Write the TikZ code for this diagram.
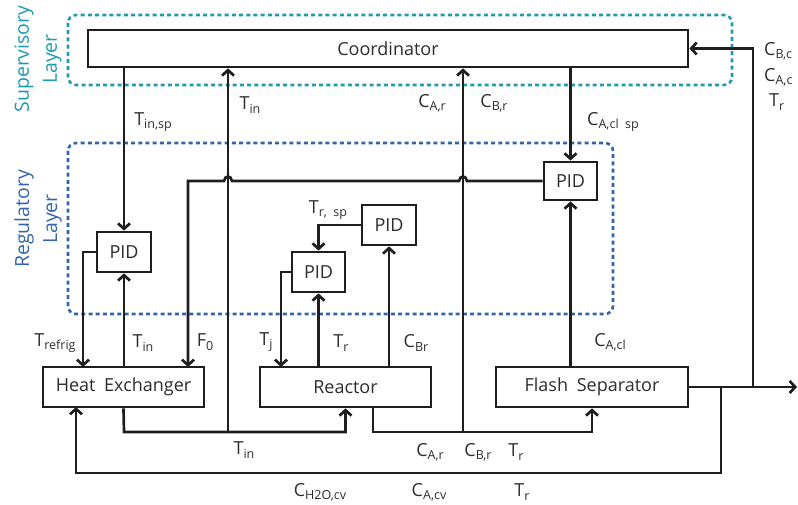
\documentclass[tikz,border=0pt]{standalone}
\usepackage{fontspec}
\setmainfont{Open Sans}
\usetikzlibrary{arrows.meta}
\definecolor{supc}{RGB}{30,155,178}
\definecolor{regc}{RGB}{50,102,170}
\definecolor{ink}{RGB}{30,30,30}
\definecolor{txt}{RGB}{45,45,45}
\newcommand\lbl[2]{#1\raisebox{-0.35ex}{\fontsize{12.5}{14}\selectfont #2}}
\begin{document}
\begin{tikzpicture}[x=1pt,y=-1pt,
  font=\fontsize{18}{21}\selectfont, text=txt,
  blk/.style={draw=ink, line width=2.7pt, fill=white, inner sep=0pt, anchor=center},
  arr/.style={draw=ink, line width=2.7pt, -{Straight Barb[length=5.5pt,width=12pt,line width=2.7pt]}},
  layerbox/.style={line width=2.6pt, dash pattern=on 4pt off 3.2pt, rounded corners=8pt},
  lab/.style={inner sep=0pt, anchor=center}]
\useasboundingbox (0,0) rectangle (798,505);

% layer frames
\draw[layerbox, draw=supc] (68,15) rectangle (732,85);
\draw[layerbox, draw=regc] (68,143) rectangle (613,314);
\node[lab, rotate=90, text=supc, align=center, font=\fontsize{19.5}{28}\selectfont] (suplab) at (38,59) {Supervisory\\Layer};
\node[lab, rotate=90, text=regc, align=center, font=\fontsize{19.5}{28}\selectfont] (reglab) at (38,219) {Regulatory\\Layer};

% blocks
\node[blk, minimum width=600pt, minimum height=37pt] (coord) at (388,48.5) {Coordinator};
\node[blk, minimum width=161pt, minimum height=40pt] (he) at (123.5,387) {Heat\hspace{4pt} Exchanger};
\node[blk, minimum width=171pt, minimum height=40pt] (re) at (345.5,387) {Reactor};
\node[blk, minimum width=192pt, minimum height=40pt] (fl) at (592,387) {Flash\hspace{4pt} Separator};
\node[blk, minimum width=54pt, minimum height=40pt] (pid1) at (124,252) {PID};
\node[blk, minimum width=53pt, minimum height=40pt] (pid2) at (318.5,272) {PID};
\node[blk, minimum width=54pt, minimum height=40pt] (pid4) at (389,225) {PID};
\node[blk, minimum width=53pt, minimum height=38pt] (pid3) at (570.5,181) {PID};

% helper coordinates
\coordinate (hebus) at (124,432);
\coordinate (tinj) at (228,432);
\coordinate (rbus) at (373,432);
\coordinate (carj) at (463,432);
\coordinate (outj) at (753,387);
\coordinate (recj) at (721,387);
\coordinate (recb) at (76,473);
\coordinate (hein) at (76,407);
\coordinate (out) at (797,387);
\coordinate (f0c) at (188,181);
\coordinate (f0in) at (188,367);
\coordinate (trefin) at (83,367);
\coordinate (tjin) at (281,367);

% supervisory connections
\draw[arr] (pid1.north |- coord.south) -- (pid1.north);
\draw[arr] (tinj) -- (tinj |- coord.south);
\draw[arr] (carj) -- (carj |- coord.south);
\draw[arr] (pid3.north |- coord.south) -- (pid3.north);
\draw[arr] (outj) |- (coord.east);

% F0 line with hops
\draw[arr] (pid3.west) -- (467,181) .. controls (466,175) and (460,175) .. (459,181)
  -- (232,181) .. controls (231,175) and (225,175) .. (224,181) -- (f0c) -- (f0in);

% regulatory loops
\draw[arr] (pid1.west) -| (trefin);
\draw[arr] (he.north -| pid1.south) -- (pid1.south);
\draw[arr] (pid2.west) -| (tjin);
\draw[arr] (re.north -| pid2.south) -- (pid2.south);
\draw[arr] (pid4.west) -| (pid2.north);
\draw[arr] (re.north -| pid4.south) -- (pid4.south);
\draw[arr] (fl.north -| pid3.south) -- (pid3.south);

% process streams
\draw[arr] (he.south) -- (hebus) -| (re.south);
\draw[arr] (rbus |- re.south) -- (rbus) -| (fl.south);
\draw[arr] (fl.east) -- (out);
\draw[arr] (recj) |- (recb) -- (hein);

% labels
\node[lab] (l1) at (153,122) {\lbl{T}{in,sp}};
\node[lab] (l2) at (250,105) {\lbl{T}{in}};
\node[lab] (l3) at (432,103) {\lbl{C}{A,r}};
\node[lab] (l4) at (494,103) {\lbl{C}{B,r}};
\node[lab] (l5) at (613,122) {\lbl{C}{A,cl\ \ sp}};
\node[lab, anchor=west] (l6) at (764,51) {\lbl{C}{B,c}};
\node[lab, anchor=west] (l7) at (764,77) {\lbl{C}{A,c}};
\node[lab, anchor=west] (l8) at (769,102) {\lbl{T}{r}};
\node[lab] (l9) at (328,210) {\lbl{T}{r,\ \ sp}};
\node[lab] (l10) at (55,343) {\lbl{T}{refrig}};
\node[lab] (l11) at (143,343) {\lbl{T}{in}};
\node[lab] (l12) at (205,342) {\lbl{F}{0}};
\node[lab] (l13) at (266,342) {\lbl{T}{j}};
\node[lab] (l14) at (341,343) {\lbl{T}{r}};
\node[lab] (l15) at (416,343) {\lbl{C}{Br}};
\node[lab] (l16) at (610,342) {\lbl{C}{A,cl}};
\node[lab] (l17) at (244,450) {\lbl{T}{in}};
\node[lab] (l18) at (430,452) {\lbl{C}{A,r}};
\node[lab] (l19) at (478,452) {\lbl{C}{B,r}};
\node[lab] (l20) at (516,452) {\lbl{T}{r}};
\node[lab] (l21) at (320,492) {\lbl{C}{H2O,cv}};
\node[lab] (l22) at (429,492) {\lbl{C}{A,cv}};
\node[lab] (l23) at (522,492) {\lbl{T}{r}};
\end{tikzpicture}
\end{document}
